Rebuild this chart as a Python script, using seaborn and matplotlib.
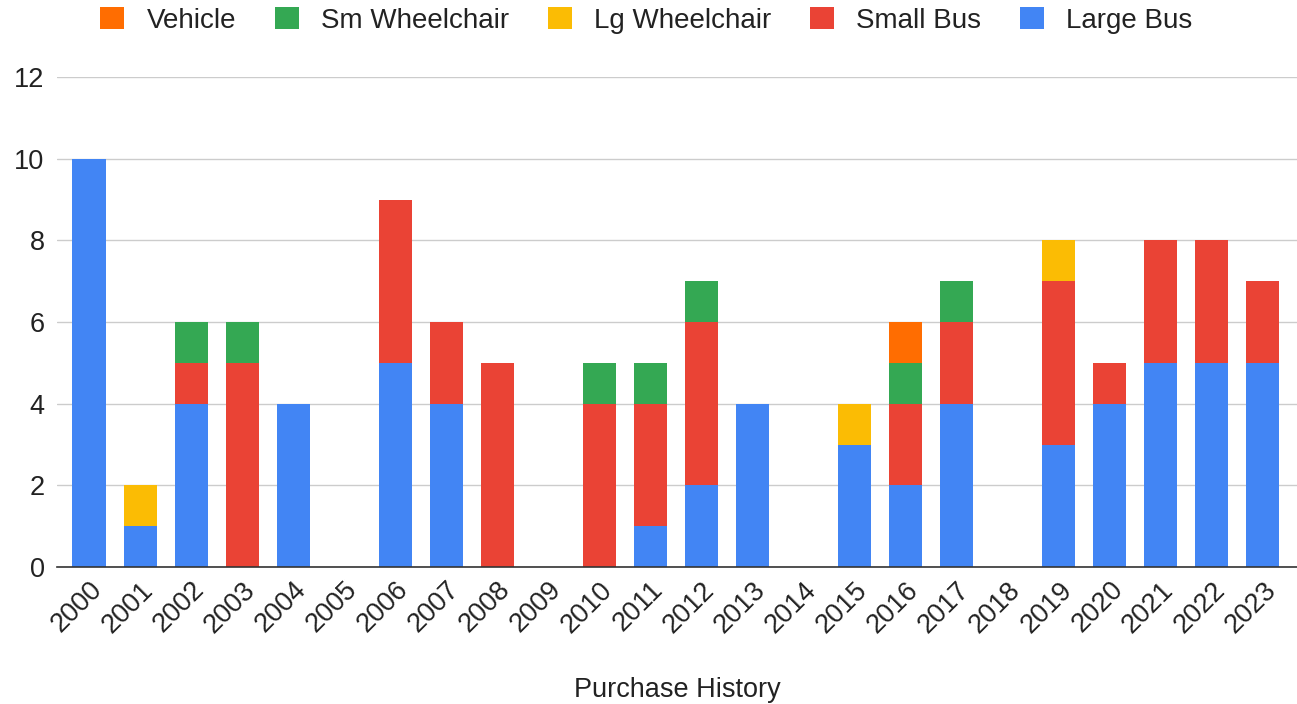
import numpy as np
import pandas as pd
import matplotlib
matplotlib.use("Agg")
import matplotlib.pyplot as plt
import seaborn as sns
from matplotlib.patches import Patch

# data
years = [str(y) for y in range(2000, 2024)]
large_bus = [10, 1, 4, 0, 4, 0, 5, 4, 0, 0, 0, 1, 2, 4, 0, 3, 2, 4, 0, 3, 4, 5, 5, 5]
small_bus = [0, 0, 1, 5, 0, 0, 4, 2, 5, 0, 4, 3, 4, 0, 0, 0, 2, 2, 0, 4, 1, 3, 3, 2]
lg_wheelchair = [0, 1, 0, 0, 0, 0, 0, 0, 0, 0, 0, 0, 0, 0, 0, 1, 0, 0, 0, 1, 0, 0, 0, 0]
sm_wheelchair = [0, 0, 1, 1, 0, 0, 0, 0, 0, 0, 1, 1, 1, 0, 0, 0, 1, 1, 0, 0, 0, 0, 0, 0]
vehicle = [0, 0, 0, 0, 0, 0, 0, 0, 0, 0, 0, 0, 0, 0, 0, 0, 1, 0, 0, 0, 0, 0, 0, 0]

# stacking order bottom -> top
layers = [
    ("Large Bus", large_bus, "#4285F4"),
    ("Small Bus", small_bus, "#EA4335"),
    ("Lg Wheelchair", lg_wheelchair, "#FBBC04"),
    ("Sm Wheelchair", sm_wheelchair, "#34A853"),
    ("Vehicle", vehicle, "#FF6D01"),
]

sns.set_theme(style="white")
plt.rcParams["font.family"] = ["Liberation Sans", "DejaVu Sans"]

fig = plt.figure(figsize=(12.97, 7.04), dpi=100)
ax = fig.add_axes([0.044, 0.1946, 0.956, 0.696])

# draw cumulative totals from the top layer down so each shows as a stacked segment
cum = np.cumsum([np.array(v) for _, v, _ in layers], axis=0)
for i in range(len(layers) - 1, -1, -1):
    df = pd.DataFrame({"year": years, "value": cum[i]})
    sns.barplot(data=df, x="year", y="value", color=layers[i][2], width=0.65,
                saturation=1, ax=ax, errorbar=None, linewidth=0, edgecolor="none")

ax.set_ylim(0, 12)
ax.set_xlim(-0.627, 23.67)
ax.set_yticks(range(0, 13, 2))
ax.yaxis.grid(True, color="#cccccc", linewidth=1)
ax.set_axisbelow(True)
for s in ["top", "right", "left"]:
    ax.spines[s].set_visible(False)
ax.spines["bottom"].set_color("#333333")
ax.spines["bottom"].set_linewidth(1.2)
ax.tick_params(axis="both", length=0, labelsize=19.5, colors="#222222")
ax.tick_params(axis="y", pad=9)
ax.tick_params(axis="x", pad=7)
plt.setp(ax.get_xticklabels(), rotation=45, ha="right", rotation_mode="anchor")
ax.set_ylabel("")
ax.set_xlabel("Purchase History", fontsize=19.5, color="#222222", labelpad=28)

legend_order = ["Vehicle", "Sm Wheelchair", "Lg Wheelchair", "Small Bus", "Large Bus"]
colors = {name: c for name, _, c in layers}
handles = [Patch(facecolor=colors[n], edgecolor="none") for n in legend_order]
fig.legend(handles, legend_order, loc="center", bbox_to_anchor=(0.4985, 0.971), ncol=5,
           frameon=False, fontsize=20, handlelength=0.86, handleheight=0.86,
           columnspacing=1.4, handletextpad=0.8, labelcolor="#222222")

fig.savefig("out.png", dpi=100)
